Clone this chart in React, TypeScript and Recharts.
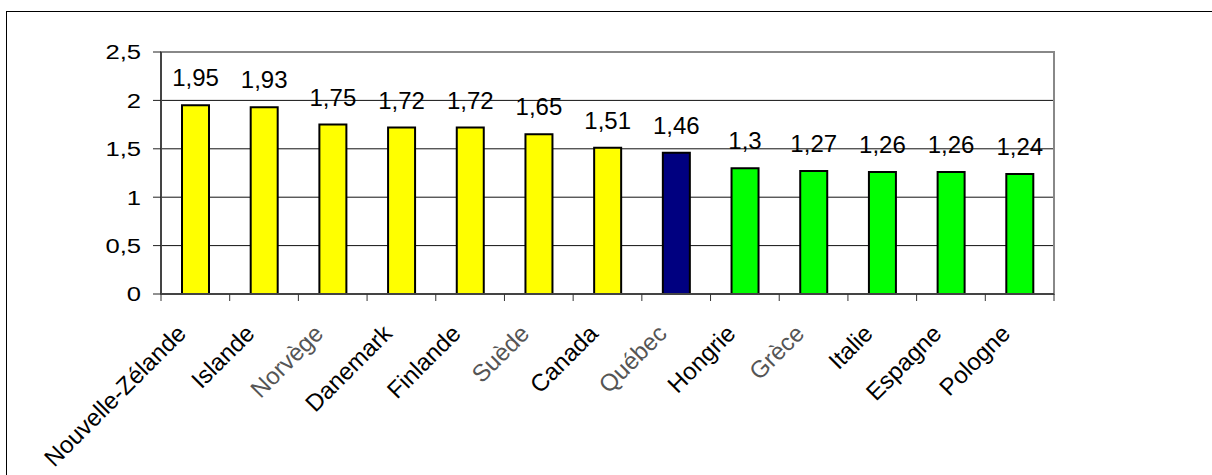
import {
  Bar,
  BarChart,
  CartesianGrid,
  Cell,
  LabelList,
  ReferenceArea,
  XAxis,
  YAxis,
} from "recharts";

const countries = [
  "Nouvelle-Zélande",
  "Islande",
  "Norvège",
  "Danemark",
  "Finlande",
  "Suède",
  "Canada",
  "Québec",
  "Hongrie",
  "Grèce",
  "Italie",
  "Espagne",
  "Pologne",
];
const fertility = [1.95, 1.93, 1.75, 1.72, 1.72, 1.65, 1.51, 1.46, 1.3, 1.27, 1.26, 1.26, 1.24];
const groups = ["haut", "haut", "haut", "haut", "haut", "haut", "haut", "quebec", "bas", "bas", "bas", "bas", "bas"];
const yTicks = [0, 0.5, 1, 1.5, 2, 2.5];
const gridValues = [0.5, 1, 1.5, 2];

const groupColors: Record<string, string> = {
  haut: "#ffff00",
  quebec: "#000080",
  bas: "#00ff00",
};
// these names look lighter in the original picture
const lightLabels = new Set(["Norvège", "Suède", "Québec", "Grèce"]);

const FONT = '"Liberation Sans", Arial, sans-serif';

const data = countries.map((name, i) => ({
  name,
  value: fertility[i],
  group: groups[i],
}));

const fmt = (v: number | string) => String(v).replace(".", ",");

function YTick({ x, y, payload }: any) {
  return (
    <g transform={`translate(${x},${y})`}>
      <text
        transform="scale(1.25,1)"
        textAnchor="end"
        dy="0.36em"
        fontSize={20.5}
        fontFamily={FONT}
        fill="#000"
      >
        {fmt(payload.value)}
      </text>
    </g>
  );
}

function XTick({ x, y, payload, index }: any) {
  const name = payload.value as string;
  const half = payload.offset ?? 0;
  const ax = x - 8;
  const ay = y + 41;
  const last = index === countries.length - 1;
  return (
    <g>
      <line x1={x - half} y1={y} x2={x - half} y2={y + 7} stroke="#333" />
      {last && <line x1={x + half} y1={y} x2={x + half} y2={y + 7} stroke="#333" />}
      <text
        x={ax}
        y={ay}
        transform={`rotate(-45 ${ax} ${ay})`}
        textAnchor="end"
        fontSize={24}
        fontFamily={FONT}
        fill={lightLabels.has(name) ? "#555" : "#000"}
      >
        {name}
      </text>
    </g>
  );
}

export default function App() {
  return (
    <>
      <div
        style={{
          position: "absolute",
          left: 6,
          top: 11,
          width: 1206,
          height: 464,
          borderTop: "1px solid #000",
          borderLeft: "1px solid #000",
          boxSizing: "border-box",
        }}
      />
      <div style={{ position: "absolute", left: 0, top: 0, width: 1212, height: 475 }}>
        <BarChart
          width={1212}
          height={475}
          data={data}
          margin={{ top: 52, right: 158, bottom: 81, left: 101 }}
          barSize={27}
        >
          <CartesianGrid
            xAxisId="cat"
            yAxisId="left"
            vertical={false}
            horizontalValues={gridValues}
            stroke="#111"
            strokeWidth={1}
          />
          <ReferenceArea
            xAxisId="cat"
            yAxisId="left"
            x1={countries[0]}
            x2={countries[countries.length - 1]}
            y1={0}
            y2={2.5}
            fill="none"
            fillOpacity={0}
            stroke="#888"
            strokeWidth={2}
            ifOverflow="visible"
          />
          <XAxis
            xAxisId="cat"
            dataKey="name"
            interval={0}
            height={100}
            tickSize={0}
            tickMargin={0}
            axisLine={{ stroke: "#444", strokeWidth: 2 }}
            tickLine={false}
            tick={<XTick />}
          />
          <YAxis
            yAxisId="left"
            domain={[0, 2.5]}
            ticks={yTicks}
            interval={0}
            width={60}
            tickSize={8}
            tickMargin={12}
            tickLine={{ stroke: "#222" }}
            axisLine={{ stroke: "#444", strokeWidth: 2 }}
            tick={<YTick />}
          />
          <Bar
            dataKey="value"
            xAxisId="cat"
            yAxisId="left"
            stroke="#000"
            strokeWidth={2}
            isAnimationActive={false}
          >
            {data.map((d) => (
              <Cell key={d.name} fill={groupColors[d.group]} />
            ))}
            <LabelList
              dataKey="value"
              position="top"
              offset={19}
              formatter={fmt}
              fontSize={24}
              fontFamily={FONT}
              fill="#000"
            />
          </Bar>
        </BarChart>
      </div>
    </>
  );
}
